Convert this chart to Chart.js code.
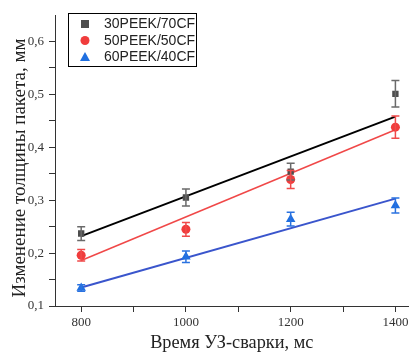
<!DOCTYPE html>
<html>
<head>
<meta charset="utf-8">
<script src="https://cdn.jsdelivr.net/npm/chart.js"></script>
<style>
  html, body { margin: 0; padding: 0; background: #fff; }
  #wrap { width: 414px; height: 354px; }
</style>
</head>
<body>
<div id="wrap"><canvas id="chart" width="414" height="354"></canvas></div>
<script>
// measured values (mm) vs welding time (ms)
const weldTimes = [800, 1000, 1200, 1400];
const peek30 = [0.237, 0.305, 0.354, 0.501];
const peek30Err = [0.013, 0.016, 0.016, 0.025];
const peek50 = [0.196, 0.245, 0.339, 0.438];
const peek50Err = [0.011, 0.013, 0.017, 0.021];
const peek60 = [0.134, 0.193, 0.264, 0.290];
const peek60Err = [0.006, 0.011, 0.013, 0.014];

// linear fits, drawn between the end points
const fitTimes = [800, 1400];
const fit30 = [0.232, 0.458];
const fit50 = [0.186, 0.433];
const fit60 = [0.135, 0.303];

const xTicks = [800, 900, 1000, 1100, 1200, 1300, 1400];
const xLabels = ['800', '', '1000', '', '1200', '', '1400'];
const yTicks = [0.1, 0.15, 0.2, 0.25, 0.3, 0.35, 0.4, 0.45, 0.5, 0.55, 0.6];
const yLabels = ['0,1', '', '0,2', '', '0,3', '', '0,4', '', '0,5', '', '0,6'];

const seriesNames = ['30PEEK/70CF', '50PEEK/50CF', '60PEEK/40CF'];
const yTitle = 'Изменение толщины пакета, мм';
const colors = ['#4d4d4d', '#f03c3c', '#1f6fe0'];
const errColors = ['#6a6a6a', '#f04a4a', '#2a72e0'];

function pts(xs, ys) {
    return xs.map((x, i) => ({ x: x, y: ys[i] }));
}

const errorBars = {
    id: 'errorBars',
    afterDatasetsDraw(chart) {
        const ctx = chart.ctx;
        const xs = chart.scales.x, ys = chart.scales.y;
        const sets = [[peek30, peek30Err], [peek50, peek50Err], [peek60, peek60Err]];
        ctx.save();
        ctx.lineWidth = 1.5;
        sets.forEach((s, k) => {
            ctx.strokeStyle = errColors[k];
            weldTimes.forEach((t, i) => {
                const px = xs.getPixelForValue(t);
                const top = ys.getPixelForValue(s[0][i] + s[1][i]);
                const bot = ys.getPixelForValue(s[0][i] - s[1][i]);
                ctx.beginPath();
                ctx.moveTo(px, top); ctx.lineTo(px, bot);
                ctx.moveTo(px - 4, top); ctx.lineTo(px + 4, top);
                ctx.moveTo(px - 4, bot); ctx.lineTo(px + 4, bot);
                ctx.stroke();
            });
        });
        ctx.restore();
    }
};

// boxed legend in the top left corner + rotated y title
const boxLegend = {
    id: 'boxLegend',
    afterDraw(chart) {
        const ctx = chart.ctx;
        ctx.save();
        ctx.strokeStyle = '#000';
        ctx.lineWidth = 1;
        ctx.strokeRect(68.5, 13.5, 128, 53);
        ctx.font = '14px "Liberation Sans", Arial, sans-serif';
        ctx.textBaseline = 'middle';
        const rows = [24, 40.5, 57];
        seriesNames.forEach((name, i) => {
            const cy = rows[i], cx = 85;
            ctx.fillStyle = colors[i];
            ctx.beginPath();
            if (i === 0) ctx.rect(cx - 4, cy - 4, 8, 8);
            else if (i === 1) ctx.arc(cx, cy, 4.5, 0, Math.PI * 2);
            else { ctx.moveTo(cx, cy - 5); ctx.lineTo(cx + 5, cy + 4); ctx.lineTo(cx - 5, cy + 4); ctx.closePath(); }
            ctx.fill();
            ctx.fillStyle = '#222';
            ctx.fillText(name, 104, cy + 0.5);
        });

        ctx.translate(20, 168);
        ctx.rotate(-Math.PI / 2);
        ctx.font = '19px "Liberation Serif", "Times New Roman", serif';
        ctx.textAlign = 'center';
        ctx.fillStyle = '#222';
        ctx.fillText(yTitle, 0, 0);
        ctx.restore();
    }
};

const tickFont = { family: '"Liberation Serif", "Times New Roman", serif', size: 13 };
const titleFont = { family: '"Liberation Serif", "Times New Roman", serif', size: 18.3 };

new Chart(document.getElementById('chart').getContext('2d'), {
    type: 'scatter',
    data: {
        datasets: [
            { type: 'line', data: pts(fitTimes, fit30), borderColor: '#000', borderWidth: 2, pointRadius: 0, order: 5 },
            { type: 'line', data: pts(fitTimes, fit50), borderColor: '#f04848', borderWidth: 1.5, pointRadius: 0, order: 5 },
            { type: 'line', data: pts(fitTimes, fit60), borderColor: '#3a55cc', borderWidth: 2, pointRadius: 0, order: 5 },
            { label: seriesNames[0], data: pts(weldTimes, peek30), pointStyle: 'rect', pointRadius: 4.5, backgroundColor: colors[0], borderWidth: 0, order: 1 },
            { label: seriesNames[1], data: pts(weldTimes, peek50), pointStyle: 'circle', pointRadius: 4.5, backgroundColor: colors[1], borderWidth: 0, order: 1 },
            { label: seriesNames[2], data: pts(weldTimes, peek60), pointStyle: 'triangle', pointRadius: 5.5, backgroundColor: colors[2], borderWidth: 0, order: 1 }
        ]
    },
    options: {
        responsive: false,
        animation: false,
        layout: { padding: { top: 15, right: 0, left: 0, bottom: 0 } },
        plugins: { legend: { display: false }, tooltip: { enabled: false } },
        scales: {
            x: {
                type: 'linear', min: 750, max: 1425,
                afterBuildTicks: s => { s.ticks = xTicks.map(v => ({ value: v })); },
                afterFit: s => { s.height = 48; s.paddingLeft = 0; s.paddingRight = 0; },
                ticks: {
                    autoSkip: false, maxRotation: 0, padding: 3, color: '#333', font: tickFont,
                    callback: (v, i) => xLabels[i]
                },
                grid: { drawOnChartArea: false, drawTicks: true, tickLength: 6, color: '#333' },
                border: { display: true, color: '#333', width: 1 },
                title: { display: true, text: 'Время УЗ-сварки, мс', color: '#222', font: titleFont, padding: { top: 2, bottom: 0 } }
            },
            y: {
                min: 0.1, max: 0.65,
                afterBuildTicks: s => { s.ticks = yTicks.map(v => ({ value: v })); },
                afterFit: s => { s.width = 55; s.paddingTop = 0; s.paddingBottom = 0; },
                ticks: {
                    autoSkip: false, padding: 5, color: '#333', font: tickFont,
                    callback: (v, i) => yLabels[i]
                },
                grid: { drawOnChartArea: false, drawTicks: true, tickLength: 6, color: '#333' },
                border: { display: true, color: '#333', width: 1 }
            }
        }
    },
    plugins: [errorBars, boxLegend]
});
</script>
</body>
</html>
